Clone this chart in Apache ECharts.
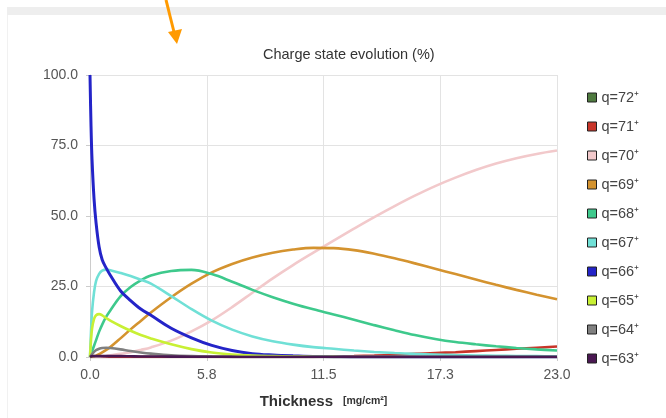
<!DOCTYPE html>
<html>
<head>
<meta charset="utf-8">
<script src="https://cdn.jsdelivr.net/npm/echarts@6/dist/echarts.min.js"></script>
<style>
html,body{margin:0;padding:0;background:#fff;}
#main{width:666px;height:418px;}
</style>
</head>
<body>
<div id="main"></div>
<script>
// thickness samples [mg/cm2]
var thick = [0, 0.05, 0.1, 0.2, 0.3, 0.45, 0.6, 0.8, 1, 1.5, 2, 2.5, 3, 4, 5, 6, 7, 8, 9, 10, 11, 12, 13, 14, 15, 16, 17, 18, 19, 20, 21, 22, 23];

var q72 = [0,0,0,0,0,0,0,0,0,0,0,0,0,0,0,0,0,0,0,0,0,0,0,0,0,0,0,0,0,0,0.05,0.1,0.1];
var q71 = [0,0,0,0,0,0,0,0,0,0,0,0,0,0,0,0,0,0,0,0.02,0.05,0.15,0.3,0.5,0.8,1.1,1.4,1.7,2.1,2.5,2.9,3.3,3.7];
var q70 = [0,0,0,0.02,0.05,0.1,0.2,0.35,0.6,1.1,1.7,2.5,3.4,5.8,9.1,13,17.7,22.8,27.9,32.6,37,41.3,45.5,49.6,53.5,57.2,60.6,63.6,66.3,68.6,70.5,72,73.2];
var q69 = [0,0.05,0.1,0.3,0.5,1,1.6,2.5,3.5,6.6,9.8,12.8,15.8,21.2,26,30,33,35.3,37,38.1,38.7,38.6,37.9,36.6,35,33.2,31.3,29.4,27.5,25.6,23.8,22.1,20.5];
var q68 = [0,1,2,4,6,9,11.5,14.3,16.5,21.5,24.8,27.2,28.9,30.5,30.9,29.4,26.7,23.8,21.2,18.9,16.9,15.1,13.2,11.3,9.5,7.8,6.4,5.3,4.5,3.8,3.2,2.7,2.3];
var q67 = [0,9,16,23,27,29.5,30.6,31,30.8,29.8,28.7,27.4,26,21.6,17,12.9,9.7,7.3,5.6,4.4,3.5,2.9,2.3,1.8,1.4,1.1,0.9,0.7,0.55,0.45,0.35,0.3,0.25];
var q66 = [100,82,70,56,47.5,39,34.5,31.5,29,23.5,20,17,14.8,10.2,6.8,4.1,2.3,1.2,0.7,0.4,0.2,0.1,0,0,0,0,0,0,0,0,0,0,0];
var q65 = [0,6,10,13.5,14.8,15.2,14.8,13.8,12.9,11,9.3,7.8,6.6,4.5,2.8,1.6,0.9,0.5,0.3,0.15,0.1,0.05,0,0,0,0,0,0,0,0,0,0,0];
var q64 = [0,0.5,1,1.8,2.4,2.9,3.2,3.3,3.2,2.7,2.1,1.6,1.2,0.6,0.3,0.15,0.05,0,0,0,0,0,0,0,0,0,0,0,0,0,0,0,0];
var q63 = [0,0.2,0.3,0.3,0.3,0.3,0.3,0.3,0.3,0.3,0.25,0.2,0.2,0.15,0.1,0.1,0.05,0,0,0,0,0,0,0,0,0,0,0,0,0,0,0,0];

var names = ['q=72⁺','q=71⁺','q=70⁺','q=69⁺','q=68⁺','q=67⁺','q=66⁺','q=65⁺','q=64⁺','q=63⁺'];
var values = [q72, q71, q70, q69, q68, q67, q66, q65, q64, q63];
var colors = ['#4f7a3f','#c8352a','#f2c9cb','#d4932f','#3ec98c','#70e0d6','#2424c8','#c8f034','#808080','#4a1852'];

function pairs(v){
	return thick.map(function(t,i){ return [t, v[i]]; });
}

var series = [];
for (var i = 0; i < names.length; i++) {
	series.push({
		name: names[i],
		type: 'line',
		data: pairs(values[i]),
		showSymbol: false,
		smooth: 0.35,
		color: colors[i],
		lineStyle: {width: names[i] == 'q=66⁺' ? 3 : 2.6, color: colors[i]},
		itemStyle: {color: colors[i]},
		z: 2 + i
	});
}

var chart = echarts.init(document.getElementById('main'));
chart.setOption({
	animation: false,
	textStyle: {fontFamily: 'Liberation Sans, Arial, sans-serif'},
	title: {
		text: 'Charge state evolution (%)',
		left: 258, top: 42,
		textStyle: {fontSize: 14.5, fontWeight: 'normal', color: '#333'}
	},
	legend: {
		orient: 'vertical',
		left: 582, top: 85,
		icon: 'rect',
		itemWidth: 9, itemHeight: 9,
		itemGap: 14,
		data: names,
		itemStyle: {borderColor: '#222', borderWidth: 1},
		textStyle: {fontSize: 14.5, color: '#444'}
	},
	grid: {left: 90, right: 109, top: 75, bottom: 61},
	xAxis: {
		type: 'value',
		min: 0, max: 23, interval: 5.75,
		name: '{a|Thickness}   {b|[mg/cm²]}',
		nameLocation: 'middle',
		nameGap: 37,
		nameTextStyle: {
			rich: {
				a: {fontSize: 15, fontWeight: 'bold', color: '#333'},
				b: {fontSize: 10.5, fontWeight: 'bold', color: '#333'}
			}
		},
		axisLine: {lineStyle: {color: '#ccc'}},
		axisTick: {show: true, length: 4, lineStyle: {color: '#ccc'}},
		axisLabel: {fontSize: 14, color: '#555', margin: 11, formatter: function(v){ return v.toFixed(1); }},
		splitLine: {lineStyle: {color: '#e3e3e3'}}
	},
	yAxis: {
		type: 'value',
		min: 0, max: 100, interval: 25,
		axisLine: {show: true, lineStyle: {color: '#ccc'}},
		axisTick: {show: true, length: 4, lineStyle: {color: '#ccc'}},
		axisLabel: {fontSize: 14, color: '#555', margin: 12, formatter: function(v){ return v.toFixed(1); }},
		splitLine: {lineStyle: {color: '#e3e3e3'}}
	},
	graphic: [
		{type: 'rect', shape: {x: 7, y: 7, width: 659, height: 8}, style: {fill: '#eeeeee'}, silent: true},
		{type: 'rect', shape: {x: 7, y: 15, width: 1, height: 403}, style: {fill: '#f1f1f1'}, silent: true},
		{type: 'line', shape: {x1: 166, y1: 0, x2: 174, y2: 32}, style: {stroke: '#ff9a00', lineWidth: 3}, silent: true},
		{type: 'polygon', shape: {points: [[168, 32], [182, 29], [177, 44]]}, style: {fill: '#ff9a00'}, silent: true}
	],
	series: series
});
</script>
</body>
</html>
